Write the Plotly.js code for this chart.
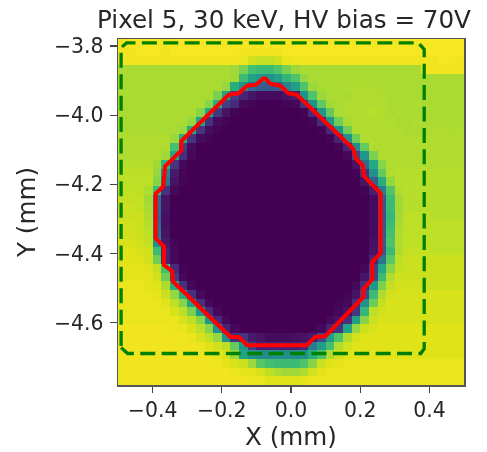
<!DOCTYPE html>
<html><head><meta charset="utf-8">
<script src="https://cdn.plot.ly/plotly-3.0.1.min.js"></script>
<style>html,body{margin:0;padding:0;background:#fff}#c{width:487px;height:452px;filter:blur(0.45px)}</style>
</head><body><div id="c"></div>
<script>
const titleText = "Pixel 5, 30 keV, HV bias = 70V";
const xTicks = [-0.4,-0.2,0,0.2,0.4];
const xTickLabels = ["−0.4","−0.2","0.0","0.2","0.4"];
const yTicks = [-3.8,-4.0,-4.2,-4.4,-4.6];
const yTickLabels = ["−3.8","−4.0","−4.2","−4.4","−4.6"];
const xCenters = [-0.4875,-0.4625,-0.4375,-0.4125,-0.3875,-0.3625,-0.3375,-0.3125,-0.2875,-0.2625,-0.2375,-0.2125,-0.1875,-0.1625,-0.1375,-0.1125,-0.0875,-0.0625,-0.0375,-0.0125,0.0125,0.0375,0.0625,0.0875,0.1125,0.1375,0.1625,0.1875,0.2125,0.2375,0.2625,0.2875,0.3125,0.3375,0.3625,0.3875,0.4125,0.4375,0.4625,0.4875];
const yCenters = [-3.7925,-3.8175,-3.8425,-3.8675,-3.8925,-3.9175,-3.9425,-3.9675,-3.9925,-4.0175,-4.0425,-4.0675,-4.0925,-4.1175,-4.1425,-4.1675,-4.1925,-4.2175,-4.2425,-4.2675,-4.2925,-4.3175,-4.3425,-4.3675,-4.3925,-4.4175,-4.4425,-4.4675,-4.4925,-4.5175,-4.5425,-4.5675,-4.5925,-4.6175,-4.6425,-4.6675,-4.6925,-4.7175,-4.7425,-4.7675];
const counts = [
[98,99,99,99,99,98,99,99,99,99,99,99,99,99,99,99,99,99,99,99,99,99,99,99,99,99,99,99,99,99,99,99,99,99,99,99,99,99,99,99],
[98,98,99,99,99,98,99,99,99,99,99,99,99,99,98,98,98,98,98,99,99,99,99,99,99,99,99,99,99,99,99,99,99,99,99,99,99,99,99,99],
[98,98,98,98,98,98,98,98,98,98,98,98,98,98,97,93,91,91,93,97,98,98,98,98,98,98,98,98,98,98,98,98,98,98,98,98,98,99,99,98],
[87,87,87,87,87,87,87,87,87,87,87,87,87,86,80,70,68,68,72,80,85,87,87,87,87,87,87,87,87,87,87,87,87,87,87,98,98,98,98,98],
[87,87,87,87,87,87,87,87,87,87,87,87,87,86,68,58,52,50,55,65,72,84,87,87,87,87,87,87,87,87,87,87,87,87,87,87,87,87,87,87],
[87,87,87,87,87,87,87,87,87,87,87,87,84,62,50,35,30,28,30,45,55,72,85,87,87,87,88,88,88,88,87,87,87,87,87,87,87,87,87,87],
[87,87,87,87,87,87,87,87,87,87,87,80,58,18,10,6,3,3,3,5,8,50,72,85,87,87,87,88,88,88,88,87,87,87,87,87,87,87,87,87],
[87,87,87,87,87,87,87,87,87,87,82,62,18,12,2,1,0,0,0,1,2,14,50,75,86,87,88,88,88,88,88,87,87,87,88,87,87,87,87,87],
[87,87,87,87,87,87,87,87,87,82,60,16,5,1,0,0,0,0,0,0,0,1,12,52,76,87,88,88,88,89,88,87,88,87,87,87,87,87,87,87],
[87,87,87,87,87,87,87,87,84,60,14,3,1,0,0,0,0,0,0,0,0,0,1,12,52,78,87,88,88,88,88,88,87,87,88,87,87,87,87,87],
[87,87,87,87,87,87,87,85,62,15,3,1,0,0,0,0,0,0,0,0,0,0,0,1,12,50,78,88,88,88,88,88,88,87,87,87,88,88,87,88],
[88,88,88,88,88,88,85,62,15,3,1,0,0,0,0,0,0,0,0,0,0,0,0,0,1,10,50,78,88,88,88,88,88,88,88,88,88,88,88,88],
[88,88,88,88,88,88,70,18,3,0,0,0,0,0,0,0,0,0,0,0,0,0,0,0,0,1,10,48,76,88,88,88,88,88,88,88,88,88,88,88],
[88,88,88,88,88,86,60,13,2,0,0,0,0,0,0,0,0,0,0,0,0,0,0,0,0,0,2,20,52,80,88,88,88,88,88,88,88,88,88,88],
[89,89,89,89,86,65,15,2,0,0,0,0,0,0,0,0,0,0,0,0,0,0,0,0,0,0,0,5,35,60,82,88,88,88,88,88,88,88,88,88],
[90,90,90,90,84,45,7,1,0,0,0,0,0,0,0,0,0,0,0,0,0,0,0,0,0,0,0,1,14,50,76,88,89,89,89,89,89,89,89,89],
[90,90,90,90,82,40,5,1,0,0,0,0,0,0,0,0,0,0,0,0,0,0,0,0,0,0,0,0,5,30,62,84,89,89,89,89,89,89,89,89],
[91,91,90,88,68,14,2,0,0,0,0,0,0,0,0,0,0,0,0,0,0,0,0,0,0,0,0,0,1,8,42,72,88,89,89,89,89,89,89,89],
[91,91,91,86,35,5,0,0,0,0,0,0,0,0,0,0,0,0,0,0,0,0,0,0,0,0,0,0,0,3,28,68,86,89,89,89,89,89,89,89],
[92,92,91,87,35,5,0,0,0,0,0,0,0,0,0,0,0,0,0,0,0,0,0,0,0,0,0,0,0,3,28,68,86,89,89,89,89,89,89,89],
[92,92,92,88,32,4,0,0,0,0,0,0,0,0,0,0,0,0,0,0,0,0,0,0,0,0,0,0,0,3,26,66,86,90,90,90,89,89,89,89],
[93,93,92,89,35,4,0,0,0,0,0,0,0,0,0,0,0,0,0,0,0,0,0,0,0,0,0,0,0,3,28,68,87,90,90,90,90,90,90,90],
[93,93,92,90,38,5,0,0,0,0,0,0,0,0,0,0,0,0,0,0,0,0,0,0,0,0,0,0,0,3,28,70,88,90,90,90,90,90,90,90],
[94,94,93,91,50,7,1,0,0,0,0,0,0,0,0,0,0,0,0,0,0,0,0,0,0,0,0,0,0,4,28,72,88,90,90,90,90,90,90,90],
[95,95,94,93,68,10,2,0,0,0,0,0,0,0,0,0,0,0,0,0,0,0,0,0,0,0,0,0,0,5,28,68,88,91,91,91,90,90,90,90],
[95,95,95,93,78,10,2,0,0,0,0,0,0,0,0,0,0,0,0,0,0,0,0,0,0,0,0,0,0,10,38,74,90,92,92,92,92,92,92,92],
[96,96,96,95,91,70,12,1,0,0,0,0,0,0,0,0,0,0,0,0,0,0,0,0,0,0,0,0,2,20,60,82,91,92,92,92,92,92,92,92],
[96,96,96,96,93,78,18,2,0,0,0,0,0,0,0,0,0,0,0,0,0,0,0,0,0,0,0,0,6,22,68,88,92,92,92,92,92,92,92,92],
[97,97,97,96,95,88,62,14,2,0,0,0,0,0,0,0,0,0,0,0,0,0,0,0,0,0,0,2,14,52,80,91,93,93,93,92,92,92,92,92],
[97,97,97,97,96,92,84,62,14,2,0,0,0,0,0,0,0,0,0,0,0,0,0,0,0,0,1,5,22,68,88,93,94,94,94,94,94,94,94,94],
[97,97,97,97,97,95,90,82,58,13,2,0,0,0,0,0,0,0,0,0,0,0,0,0,0,1,2,13,50,78,91,94,94,94,94,94,94,94,94,94],
[97,97,97,97,97,97,94,90,80,52,12,2,0,0,0,0,0,0,0,0,0,0,0,0,0,2,5,16,66,90,93,94,94,94,94,94,94,94,94,94],
[97,97,97,97,97,97,97,94,90,82,52,11,2,0,0,0,0,0,0,0,0,0,0,0,2,5,14,55,82,92,94,94,94,94,94,94,94,94,94,94],
[98,98,98,98,98,98,97,97,94,90,82,50,10,2,0,0,0,0,0,0,0,0,0,2,10,16,58,84,92,94,95,95,95,95,95,95,95,95,95,95],
[98,98,98,98,98,98,98,98,97,94,90,84,50,14,16,7,5,3,3,3,4,5,7,22,55,72,88,93,95,95,95,95,95,95,95,95,95,95,95,95],
[98,98,98,98,98,98,98,98,98,97,95,93,90,76,52,18,9,9,9,9,9,12,42,55,70,88,93,95,95,95,95,95,95,95,95,95,95,95,95,95],
[98,98,98,98,98,98,98,98,98,98,98,96,94,85,58,50,48,48,48,48,48,50,62,72,88,93,95,96,96,96,96,96,95,95,95,95,95,95,95,95],
[98,98,98,98,98,98,98,98,98,98,98,98,96,94,92,85,74,70,68,68,68,72,82,92,95,96,97,97,97,97,97,97,97,97,97,97,97,97,97,97],
[98,98,98,98,98,98,98,98,98,98,98,98,98,97,96,96,94,90,87,86,86,88,93,96,97,97,97,97,97,97,97,97,97,97,97,97,97,97,97,97],
[98,98,98,98,98,98,98,98,98,98,98,98,98,98,98,97,97,95,95,95,95,96,97,97,97,97,97,97,97,97,97,97,97,97,97,97,97,97,97,97]
];
const contourX = [-0.077,-0.060,-0.031,-0.007,0.017,0.180,0.187,0.207,0.211,0.259,0.259,0.235,0.235,0.209,0.209,0.099,0.070,0.046,-0.127,-0.151,-0.175,-0.341,-0.343,-0.367,-0.367,-0.391,-0.391,-0.369,-0.364,-0.317,-0.317,-0.180,-0.151,-0.127,-0.101,-0.077];
const contourY = [-3.891,-3.909,-3.915,-3.937,-3.941,-4.097,-4.125,-4.145,-4.176,-4.226,-4.399,-4.424,-4.474,-4.503,-4.526,-4.639,-4.641,-4.665,-4.665,-4.641,-4.641,-4.481,-4.452,-4.433,-4.380,-4.356,-4.227,-4.206,-4.148,-4.102,-4.075,-3.941,-3.937,-3.915,-3.912,-3.891];
const boxX = [-0.491,-0.472,0.375,0.385,0.385,0.368,-0.475,-0.491,-0.491];
const boxY = [-4.672,-4.689,-4.689,-4.675,-3.810,-3.791,-3.791,-3.805,-4.672];
const viridis = [[0,'#440154'],[0.1,'#482475'],[0.2,'#414487'],[0.3,'#355f8d'],[0.4,'#2a788e'],[0.5,'#21918c'],[0.6,'#22a884'],[0.7,'#44bf70'],[0.8,'#7ad151'],[0.9,'#bddf26'],[0.95,'#dfe318'],[1,'#fde725']];
const ink = '#262626';
const axisBase = {showgrid:false,zeroline:false,showline:true,mirror:true,linecolor:'#555',linewidth:1.5,ticks:'outside',ticklen:6,tickwidth:1.2,tickcolor:'#444',tickfont:{family:'DejaVu Sans',size:20.4,color:ink}};
Plotly.newPlot('c',[
 {type:'heatmap',x:xCenters,y:yCenters,z:counts,zmin:0,zmax:100,colorscale:viridis,showscale:false,hoverinfo:'skip'},
 {type:'scatter',mode:'lines',x:contourX,y:contourY,line:{color:'#ff0000',width:4,shape:'linear'},hoverinfo:'skip',showlegend:false},
 {type:'scatter',mode:'lines',x:boxX,y:boxY,line:{color:'#008000',width:3.3,dash:'15px,6.4px'},hoverinfo:'skip',showlegend:false}
],{
 width:487,height:452,margin:{l:117.5,r:23,t:38.5,b:67,pad:0},
 paper_bgcolor:'#fff',plot_bgcolor:'#fff',showlegend:false,
 title:{text:titleText,font:{family:'DejaVu Sans',size:24.6,color:ink},x:284/487,xanchor:'center',y:1-19/452,yanchor:'middle'},
 xaxis:Object.assign({},axisBase,{range:[-0.5,0.5],tickvals:xTicks,ticktext:xTickLabels,title:{text:'X (mm)',font:{family:'DejaVu Sans',size:24.6,color:ink},standoff:4}}),
 yaxis:Object.assign({},axisBase,{ticklen:7,ticklabelstandoff:2,range:[-4.78,-3.78],tickvals:yTicks,ticktext:yTickLabels,title:{text:'Y (mm)',font:{family:'DejaVu Sans',size:24.6,color:ink},standoff:11}})
},{displayModeBar:false,staticPlot:true});
</script></body></html>
